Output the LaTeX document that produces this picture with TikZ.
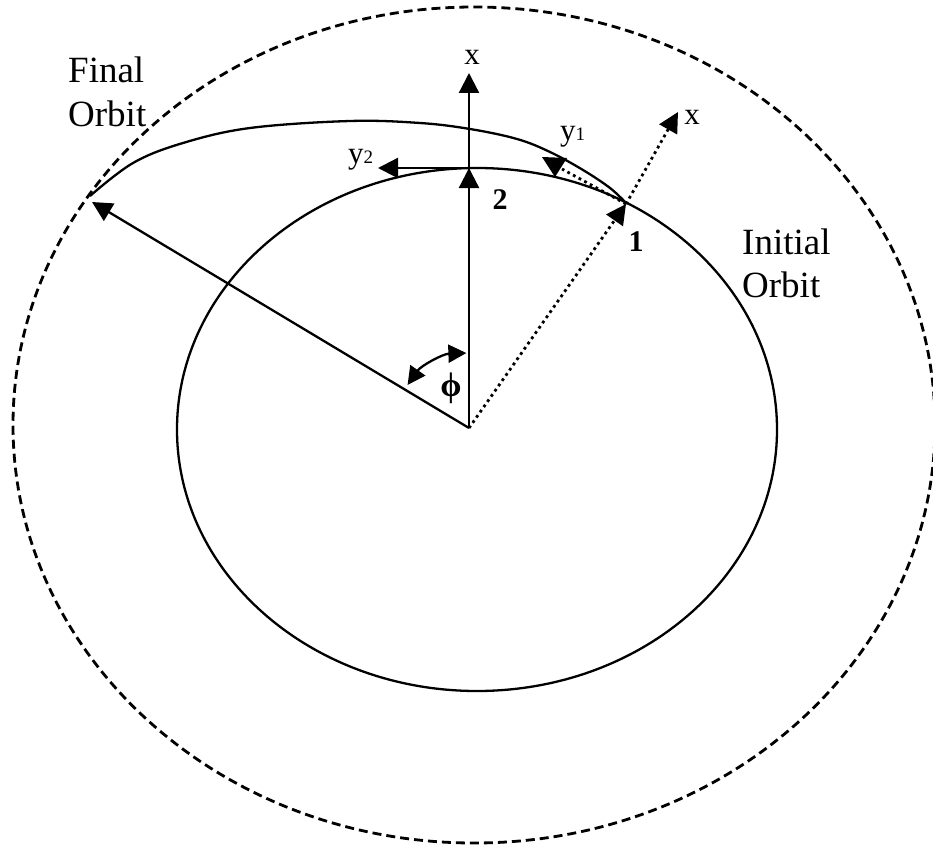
\documentclass[tikz,border=0pt]{standalone}
\usepackage{fontspec}
\setmainfont{Liberation Serif}
\usetikzlibrary{arrows.meta}
\begin{document}
\begin{tikzpicture}[x=1pt,y=-1pt,
  solidline/.style={line width=2.3pt},
  dashline/.style={line width=2.8pt,dash pattern=on 9pt off 5pt},
  dotline/.style={line width=2.8pt,dash pattern=on 2.8pt off 3.6pt},
  bigtip/.style={-{Triangle[length=20pt,width=20pt]}},
  lbl/.style={inner sep=0pt,font=\fontsize{37}{43}\selectfont},
  axlbl/.style={inner sep=0pt,font=\fontsize{31}{33}\selectfont},
  numlbl/.style={inner sep=0pt,font=\fontsize{30}{32}\selectfont\bfseries}]
\useasboundingbox (0,0) rectangle (933,845);
\clip (0,0) rectangle (933,845);

% key points (pixel coordinates)
\coordinate (O) at (469,428);
\coordinate (P2) at (469,168);
\coordinate (Xtop) at (469,73);
\coordinate (P1) at (626,204);
\coordinate (Xdiag) at (678,112);
\coordinate (Fend) at (92,202);
\coordinate (Y2tip) at (378,168);
\coordinate (Y1end) at (562,169);

% outer (dashed) circle-like ellipse
\draw[dashline] (474,425) ellipse[x radius=461, y radius=418];
% initial orbit
\draw[solidline] (477,429.5) ellipse[x radius=300, y radius=261.5];
% final (transfer) orbit arc
\draw[solidline] plot[smooth,tension=0.6] coordinates {(90,196) (133,163) (183,143) (250,128) (350,121) (420,123) (470,129) (517,139) (550,152) (583,170) (610,188) (626,203)};

% radial lines from the centre
\draw[solidline,bigtip] (O) -- (Xtop);
\draw[solidline,bigtip] (O) -- (P2);
\draw[solidline,bigtip] (O) -- (Fend);
\draw[solidline,bigtip] (P2) -- (Y2tip);
\draw[dotline,bigtip] (O) -- (P1);
\draw[dotline,bigtip] (P1) -- (Xdiag);
\draw[dotline] (P1) -- (Y1end);
\fill (542,157) -- (567,158) -- (555,177) -- cycle;

% angle phi
\draw[solidline,{Triangle[length=18pt,width=18pt]}-{Triangle[length=18pt,width=18pt]}] (O) ++(-145:75) arc[start angle=-145, end angle=-92, radius=75];

% labels
\node[lbl,anchor=base west] (lFinal) at (68,83) {Final};
\node[lbl,anchor=base west] (lFinalO) at (68,127) {Orbit};
\node[lbl,anchor=base west] (lInit) at (742,254) {Initial};
\node[lbl,anchor=base west] (lInitO) at (742,297) {Orbit};
\node[axlbl] (lx1) at (472,57) {x};
\node[axlbl] (lx2) at (692,117) {x};
\node[axlbl,anchor=base west] (ly1) at (560,141) {y\fontsize{19}{20}\selectfont 1};
\node[axlbl,anchor=base west] (ly2) at (348,164) {y\fontsize{19}{20}\selectfont 2};
\node[numlbl] (l2) at (500,200) {2};
\node[numlbl] (l1) at (636,242) {1};
\node[inner sep=0pt,font=\fontsize{34}{36}\selectfont\bfseries] (lphi) at (451,388) {ϕ};
\end{tikzpicture}
\end{document}
